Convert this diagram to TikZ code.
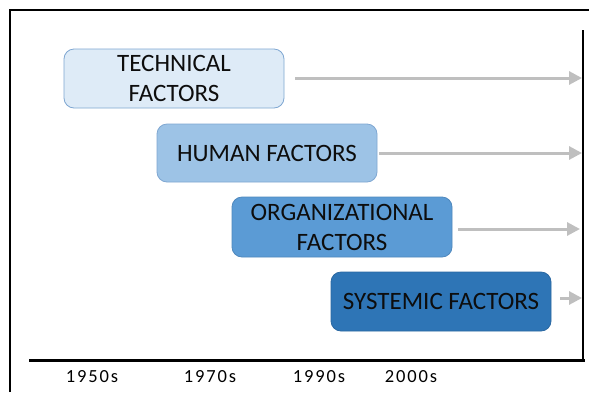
\documentclass[tikz,border=0pt]{standalone}
\usepackage{fontspec}
\setmainfont{Carlito}
\newfontfamily\yearfont{Carlito}[LetterSpace=10]
\usetikzlibrary{arrows.meta}
\definecolor{techfill}{HTML}{DEEBF7}
\definecolor{techline}{HTML}{7FA7D2}
\definecolor{humanfill}{HTML}{9DC3E6}
\definecolor{humanline}{HTML}{7FA7D2}
\definecolor{orgfill}{HTML}{5B9BD5}
\definecolor{orgline}{HTML}{4F88BD}
\definecolor{sysfill}{HTML}{2E75B6}
\definecolor{sysline}{HTML}{2A68A2}
\definecolor{trendgray}{HTML}{BFBFBF}
\definecolor{labelcolor}{HTML}{0D0D0D}

\tikzset{
  factorbox/.style={rounded corners=10pt, line width=0.8pt, minimum width=220pt,
    minimum height=59pt, align=center, text=labelcolor,
    font=\fontsize{25}{30}\selectfont},
  trend/.style={trendgray, line width=3pt, -{Triangle[length=13pt,width=13pt]}},
  yearlabel/.style={anchor=base, text=black, font=\yearfont\fontsize{18.5}{20}\selectfont}
}

\begin{document}
\begin{tikzpicture}[x=1pt, y=-1pt]
  \useasboundingbox (0,0) rectangle (589,392);
  \fill[white] (0,0) rectangle (589,392);

  % === FRAME ===
  \draw[line width=2pt] (10,392) -- (10,10) -- (589,10);

  % === AXES ===
  \draw[line width=3pt] (29,360) -- (585,360);
  \draw[line width=2.5pt] (583,30) -- (583,361);

  % === FACTOR BOXES ===
  \node[factorbox, fill=techfill, draw=techline] (tech) at (174,78.5) {TECHNICAL\\FACTORS};
  \node[factorbox, fill=humanfill, draw=humanline, minimum height=58pt] (human) at (267,153) {HUMAN FACTORS};
  \node[factorbox, fill=orgfill, draw=orgline, minimum height=60pt] (org) at (342,227) {ORGANIZATIONAL\\FACTORS};
  \node[factorbox, fill=sysfill, draw=sysline] (sys) at (441,301.5) {SYSTEMIC FACTORS};

  % arrow ends on the right axis
  \coordinate (techend) at (582,78);
  \coordinate (humanend) at (582,153);
  \coordinate (orgend) at (580,229);
  \coordinate (sysend) at (582,298);

  % === TRENDS ===
  \draw[trend] ([xshift=11pt]tech.east |- techend) -- (techend);
  \draw[trend] ([xshift=2pt]human.east |- humanend) -- (humanend);
  \draw[trend] ([xshift=6pt]org.east |- orgend) -- (orgend);
  \draw[trend] ([xshift=9pt]sys.east |- sysend) -- (sysend);

  % === DECADES ===
  \node[yearlabel] (y1950) at (92,382) {1950s};
  \node[yearlabel] (y1970) at (210,382) {1970s};
  \node[yearlabel] (y1990) at (319,382) {1990s};
  \node[yearlabel] (y2000) at (411,382) {2000s};
\end{tikzpicture}
\end{document}
